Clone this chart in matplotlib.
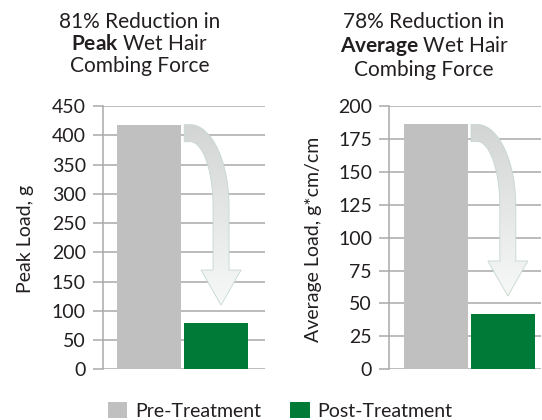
import numpy as np
import matplotlib
import matplotlib.pyplot as plt
from matplotlib.patches import Polygon, Patch
from matplotlib.colors import LinearSegmentedColormap

matplotlib.use("Agg")

plt.rcParams["font.family"] = ["Lato", "DejaVu Sans"]
plt.rcParams["mathtext.fontset"] = "custom"
plt.rcParams["mathtext.rm"] = "Lato"
plt.rcParams["mathtext.bf"] = "Lato:bold"

# data
groups = ["Pre-Treatment", "Post-Treatment"]
peak_load = [418, 79]
avg_load = [186, 42]
peak_ticks = [0, 50, 100, 150, 200, 250, 300, 350, 400, 450]
avg_ticks = [0, 25, 50, 75, 100, 125, 150, 175, 200]

GRAY = "#c0c0c0"
GREEN = "#007a37"
TXT = "#231f20"
GRID = "#a9a9a9"

W, H = 542, 420
fig = plt.figure(figsize=(W / 100, H / 100), dpi=100)


def px_axes(x0, x1, y0, y1):
    # pixel box (image coords, y down) -> figure fraction
    return fig.add_axes([x0 / W, 1 - y1 / H, (x1 - x0) / W, (y1 - y0) / H])


def curved_arrow(ax, values):
    # curved arrow from the top of the first bar down to above the second
    T = ax.transData
    xr, yt = T.transform((0.473, values[0]))
    xc, yp = T.transform((1, values[1]))
    tail = xr + 3.5
    sc = xc + 5
    x_in, x_out = sc - 8, sc + 8
    cy = yt - 82
    head_base = yp + 53
    tip = yp + 18
    cx = tail + 6
    pts = [(tail, yt)]
    th = np.linspace(np.pi / 2, 0, 30)
    pts += list(zip(cx + (x_out - cx) * np.cos(th), cy + 82 * np.sin(th)))
    pts += [(x_out, head_base), (sc + 20, head_base), (sc, tip),
            (sc - 20, head_base), (x_in, head_base)]
    th = np.linspace(0, np.pi / 2, 30)
    pts += list(zip(cx + (x_in - cx) * np.cos(th), cy + 65 * np.sin(th)))
    pts += [(tail, yt - 17)]
    dpts = T.inverted().transform(np.array(pts))
    poly = Polygon(dpts, closed=True, facecolor="none", edgecolor="#c4d8cc",
                   linewidth=0.6, zorder=4)
    ax.add_patch(poly)
    cmap = LinearSegmentedColormap.from_list("arr", ["#f7f9f8", "#d3d5d5"])
    xmin, ymin = dpts.min(axis=0)
    xmax, ymax = dpts.max(axis=0)
    grad = np.linspace(0, 1, 256).reshape(-1, 1)
    im = ax.imshow(grad, extent=(xmin, xmax, ymin, ymax), origin="lower",
                   cmap=cmap, aspect="auto", zorder=3)
    im.set_clip_path(poly)


def panel(ax, values, ticks, xlim):
    ax.bar([0, 1], values, width=0.946, color=[GRAY, GREEN], zorder=2)
    ax.set_xlim(*xlim)
    ax.set_ylim(ticks[0], ticks[-1])
    ax.set_yticks(ticks)
    ax.set_xticks([])
    ax.grid(axis="y", color=GRID, linewidth=1.1, zorder=0)
    ax.set_axisbelow(True)
    for s in ["top", "right", "bottom"]:
        ax.spines[s].set_visible(False)
    ax.spines["left"].set_color(GRID)
    ax.spines["left"].set_linewidth(1.1)
    ax.tick_params(axis="y", length=7.2, width=1.1, color=GRID, pad=5,
                   labelsize=14, labelcolor=TXT)
    curved_arrow(ax, values)
    ax.set_xlim(*xlim)
    ax.set_ylim(ticks[0], ticks[-1])


ax1 = px_axes(102.7, 265, 106, 369.3)
panel(ax1, peak_load, peak_ticks, (-0.69, 1.73))
ax2 = px_axes(389, 541, 106, 369.3)
panel(ax2, avg_load, avg_ticks, (-0.70, 1.57))

fig.text(140 / W, 1 - 12 / H, "81% Reduction in\n$\\mathbf{Peak}$ Wet Hair\nCombing Force",
         ha="center", va="top", fontsize=15, color=TXT, linespacing=1.12,
         multialignment="center")
fig.text(424 / W, 1 - 12 / H, "78% Reduction in\n$\\mathbf{Average}$ Wet Hair\nCombing Force",
         ha="center", va="top", fontsize=15, color=TXT, linespacing=1.12,
         multialignment="center")

fig.text(25 / W, 1 - 239 / H, "Peak Load, g", rotation=90, ha="center",
         va="center", fontsize=14, color=TXT)
fig.text(313 / W, 1 - 239 / H, "Average Load, g*cm/cm", rotation=90,
         ha="center", va="center", fontsize=14, color=TXT)

handles = [Patch(facecolor=GRAY), Patch(facecolor=GREEN)]
fig.legend(handles, groups, loc="center", bbox_to_anchor=(280 / W, 1 - 411 / H),
           ncol=2, frameon=False, fontsize=14, handlelength=1.0,
           handleheight=0.9, handletextpad=0.4, columnspacing=1.5,
           borderpad=0, labelcolor=TXT)

fig.savefig("out.png", dpi=100)
